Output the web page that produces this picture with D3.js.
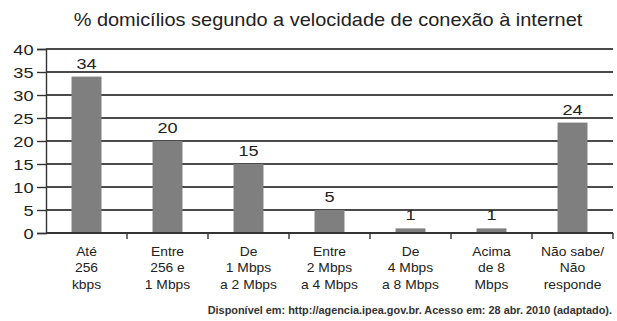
<!DOCTYPE html>
<html><head><meta charset="utf-8">
<script src="https://cdn.jsdelivr.net/npm/d3@7"></script>
<style>body{margin:0;background:#fff}svg{display:block}text{font-family:"Liberation Sans",Arial,sans-serif;fill:#222}</style>
</head><body><svg id="c" width="617" height="321"></svg>
<script>
const title = "% domicílios segundo a velocidade de conexão à internet";
const categories = [
  ["Até","256","kbps"],
  ["Entre","256 e","1 Mbps"],
  ["De","1 Mbps","a 2 Mbps"],
  ["Entre","2 Mbps","a 4 Mbps"],
  ["De","4 Mbps","a 8 Mbps"],
  ["Acima","de 8","Mbps"],
  ["Não sabe/","Não","responde"]
];
const values = [34, 20, 15, 5, 1, 1, 24];
const yTicks = [0, 5, 10, 15, 20, 25, 30, 35, 40];
const source = "Disponível em: http://agencia.ipea.gov.br. Acesso em: 28 abr. 2010 (adaptado).";

(function(){
const svg = d3.select("#c");
const mL = 46, mR = 613, mT = 49, mB = 233;
const x = d3.scaleBand().domain(d3.range(values.length)).range([mL, mR]).paddingInner(0.63).paddingOuter(0.315);
const y = d3.scaleLinear().domain([0, 40]).range([mB, mT]);

svg.append("g").attr("transform", "translate(328,26) scale(1.14,1)")
  .append("text").attr("text-anchor", "middle").attr("font-size", 17.5).text(title);

// gridlines
svg.append("g").selectAll("line").data(yTicks.filter(d => d > 0)).join("line")
  .attr("x1", mL).attr("x2", mR).attr("y1", d => y(d)).attr("y2", d => y(d))
  .attr("stroke", "#4a4a4a").attr("stroke-width", 1.8);

// bars
svg.append("g").selectAll("rect").data(values).join("rect")
  .attr("x", (d, i) => x(i)).attr("width", x.bandwidth())
  .attr("y", d => y(d)).attr("height", d => y(0) - y(d))
  .attr("fill", "#7f7f7f");

// value labels
svg.append("g").selectAll("g").data(values).join("g")
  .attr("transform", (d, i) => `translate(${x(i) + x.bandwidth() / 2},${y(d) - 8}) scale(1.25,1)`)
  .append("text").attr("text-anchor", "middle").attr("font-size", 14.5).text(d => d);

// y axis
const yAxis = d3.axisLeft(y).tickValues(yTicks).tickSize(9).tickPadding(0).tickFormat("");
const gy = svg.append("g").attr("transform", `translate(${mL},0)`).call(yAxis);
gy.select(".domain").attr("stroke", "#333").attr("stroke-width", 1.4);
gy.selectAll(".tick line").attr("stroke", "#333").attr("stroke-width", 1.4);
gy.selectAll(".tick").append("g").attr("transform", "translate(-12.5,5) scale(1.3,1)")
  .append("text").attr("text-anchor", "end").attr("font-size", 14)
  .attr("fill", "#222").attr("font-family", "Liberation Sans, Arial, sans-serif")
  .text(d => d);

// x baseline
svg.append("line").attr("x1", mL).attr("x2", mR).attr("y1", y(0)).attr("y2", y(0))
  .attr("stroke", "#333").attr("stroke-width", 1.8);
// category boundary ticks
const bounds = d3.range(values.length + 1).map(i => mL + i * (mR - mL) / values.length);
svg.append("g").selectAll("line").data(bounds.slice(1)).join("line")
  .attr("x1", d => d).attr("x2", d => d).attr("y1", y(0)).attr("y2", y(0) + 6)
  .attr("stroke", "#333").attr("stroke-width", 1.4);

// category labels
const cl = svg.append("g").selectAll("g").data(categories).join("g")
  .attr("transform", (d, i) => `translate(${x(i) + x.bandwidth() / 2},0) scale(1.08,1)`)
  .append("text").attr("text-anchor", "middle").attr("font-size", 12.8);
cl.each(function(lines) {
  const t = d3.select(this);
  lines.forEach((l, j) => t.append("tspan").attr("x", 0).attr("y", 256 + j * 16.5).text(l));
});

svg.append("text").attr("x", 612).attr("y", 314).attr("text-anchor", "end")
  .attr("font-size", 10.9).attr("font-weight", "bold").style("fill", "#333").text(source);
})();
</script></body></html>
